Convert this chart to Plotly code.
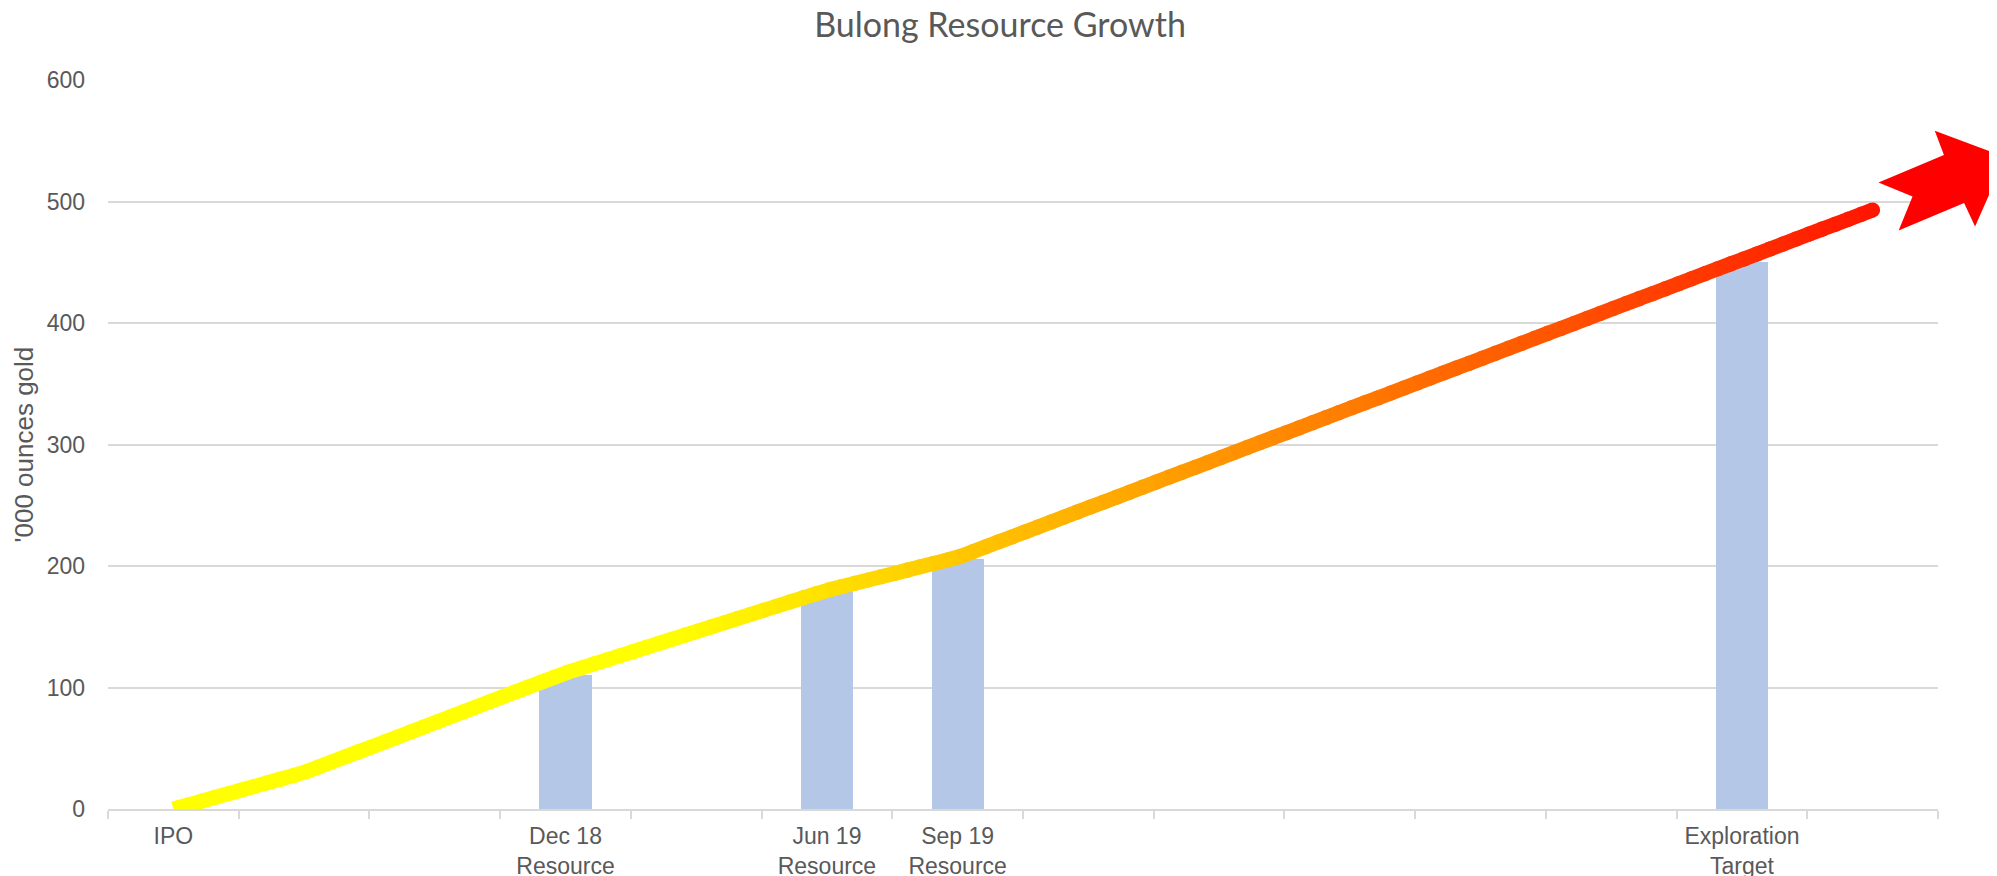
import numpy as np
import plotly.graph_objects as go

# ---------------- data ----------------
categories = ["IPO", "", "", "Dec 18<br>Resource", "", "Jun 19<br>Resource",
              "Sep 19<br>Resource", "", "", "", "", "", "Exploration<br>Target", ""]
bar_idx = [3, 5, 6, 12]
bar_values = [110, 180, 206, 450]
line_idx = [0, 1, 3, 5, 6, 13]
line_values = [0, 30, 112, 180, 207, 493]
y_ticks = [0, 100, 200, 300, 400, 500, 600]

# ---------------- layout constants ----------------
FIG_W, FIG_H = 1997, 876
M_L, M_R, M_T, M_B = 100, 67, 72, 75
PW, PH = FIG_W - M_L - M_R, FIG_H - M_T - M_B
N = len(categories)
X_RANGE = [-0.5, N - 0.5]
Y_RANGE = [0, 600]

TXT = "#595959"
GRID = "#D9D9D9"
BAR = "#B4C7E7"


def grad_color(x):
    g = float(np.interp(x, [0, 3.8, 13], [255, 255, 22]))
    return f"rgb(255,{int(round(g))},0)"


fig = go.Figure()

fig.add_trace(go.Bar(x=bar_idx, y=bar_values, width=0.4, marker=dict(color=BAR, line_width=0),
                     showlegend=False, hoverinfo="skip"))

# gradient-coloured line drawn along the data polyline
LW = 15
lx = np.array(line_idx, dtype=float)
ly = np.array(line_values, dtype=float)
steps = np.linspace(lx[0], lx[-1], 131)
for a, b in zip(steps[:-1], steps[1:]):
    bb = min(b + 0.03, lx[-1])
    inner = [(x, y) for x, y in zip(lx, ly) if a < x < bb]
    pts = [(a, np.interp(a, lx, ly))] + inner + [(bb, np.interp(bb, lx, ly))]
    fig.add_trace(go.Scatter(x=[p[0] for p in pts], y=[p[1] for p in pts], mode="lines",
                             line=dict(color=grad_color((a + b) / 2), width=LW),
                             showlegend=False, hoverinfo="skip"))
# rounded end cap
fig.add_trace(go.Scatter(x=[line_idx[-1]], y=[line_values[-1]], mode="markers",
                         marker=dict(color=grad_color(line_idx[-1]), size=LW, line_width=0),
                         showlegend=False, hoverinfo="skip"))


# ---------------- arrow head after the line end ----------------
def to_px(x, y):
    px = M_L + (x - X_RANGE[0]) / (X_RANGE[1] - X_RANGE[0]) * PW
    py = M_T + (Y_RANGE[1] - y) / (Y_RANGE[1] - Y_RANGE[0]) * PH
    return px, py


def to_paper(px, py):
    return (px - M_L) / PW, (M_T + PH - py) / PH


ox, oy = to_px(line_idx[-1], line_values[-1])
px0, py0 = to_px(line_idx[-2], line_values[-2])
dx, dy = ox - px0, oy - py0
ln = np.hypot(dx, dy)
ux, uy = dx / ln, dy / ln
ang = np.deg2rad(-2)
ux, uy = ux * np.cos(ang) - uy * np.sin(ang), ux * np.sin(ang) + uy * np.cos(ang)
vx, vy = -uy, ux
local = [(16, -26), (87, -26), (88, -52), (143, 0), (88, 52), (87, 26), (16, 26), (42, 0)]
path = []
for i, (s, t) in enumerate(local):
    t += 3
    X, Y = to_paper(ox + s * ux + t * vx, oy + s * uy + t * vy)
    path.append(("M" if i == 0 else "L") + f"{X:.5f},{Y:.5f}")
fig.add_shape(type="path", xref="paper", yref="paper", path=" ".join(path) + " Z",
              fillcolor="#FF0000", line=dict(width=0), layer="above")

tick_vals = [i for i, c in enumerate(categories) if c]
tick_text = [c for c in categories if c]

fig.update_layout(
    width=FIG_W, height=FIG_H,
    margin=dict(l=M_L, r=M_R, t=M_T, b=M_B, autoexpand=False),
    paper_bgcolor="white", plot_bgcolor="white",
    bargap=0,
    title=dict(text="Bulong Resource Growth", x=992 / FIG_W, xref="container", xanchor="center",
               y=1 - 17 / FIG_H, yref="container", yanchor="middle",
               font=dict(family="Lato", size=34, color=TXT)),
    font=dict(family="Liberation Sans, Arial", size=23, color=TXT),
    xaxis=dict(range=X_RANGE, tickmode="array", tickvals=tick_vals, ticktext=tick_text,
               ticks="", showgrid=False, zeroline=False, showline=True, linecolor=GRID,
               linewidth=1.5, ticklabelstandoff=6,
               minor=dict(tickmode="array", tickvals=[i - 0.5 for i in range(N + 1)],
                          ticks="outside", ticklen=8, tickcolor=GRID, tickwidth=1.5,
                          showgrid=False),
               tickfont=dict(size=23, color=TXT)),
    yaxis=dict(range=Y_RANGE, tickmode="array", tickvals=y_ticks, ticks="", showgrid=True,
               gridcolor=GRID, gridwidth=1.5, zeroline=False, showline=False,
               ticklabelstandoff=22, tickfont=dict(size=23, color=TXT)),
    annotations=[dict(text="'000 ounces gold", xref="paper", yref="paper", x=0, y=0.5,
                      xshift=-(M_L - 15), xanchor="center", yanchor="middle", textangle=-90,
                      showarrow=False, font=dict(size=26, color=TXT,
                                                 family="Liberation Sans, Arial"))],
)

fig.write_html("out.html")
